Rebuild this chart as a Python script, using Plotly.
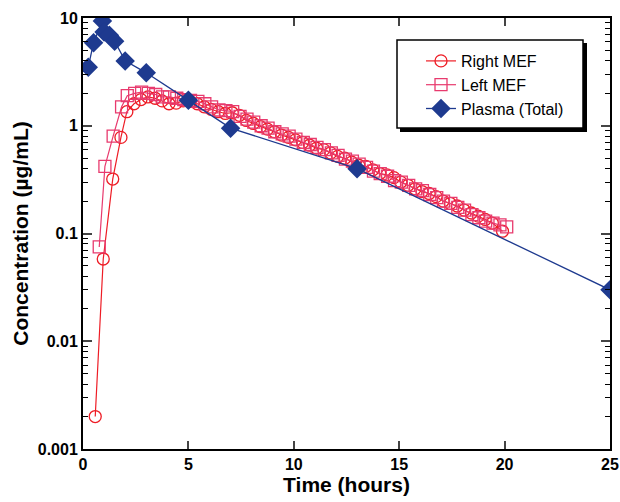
import plotly.graph_objects as go

plasma_t = [0.25, 0.5, 0.92, 1.0, 1.25, 1.5, 2, 3, 5, 7, 13, 25]
plasma_c = [3.5, 5.9, 9.4, 7.4, 6.9, 6.1, 4.0, 3.1, 1.72, 0.95, 0.40, 0.030]

right_t = [0.58, 0.96, 1.41, 1.8, 2.08, 2.42, 2.75, 3.08, 3.42, 3.75, 4.08, 4.42, 4.75,
           5.08, 5.42, 5.75, 6.08, 6.42, 6.75, 7.08, 7.42, 7.75, 8.08, 8.42, 8.75, 9.08,
           9.42, 9.75, 10.08, 10.42, 10.75, 11.08, 11.42, 11.75, 12.08, 12.42, 12.75,
           13.08, 13.42, 13.75, 14.08, 14.42, 14.75, 15.08, 15.42, 15.75, 16.08, 16.42,
           16.75, 17.08, 17.42, 17.75, 18.08, 18.42, 18.75, 19.08, 19.42, 19.9]
right_c = [0.002, 0.058, 0.32, 0.78, 1.35, 1.6, 1.75, 1.85, 1.8, 1.7, 1.6, 1.62, 1.7,
           1.68, 1.6, 1.5, 1.42, 1.35, 1.3, 1.32, 1.25, 1.12, 1.05, 0.98, 0.93, 0.88,
           0.82, 0.78, 0.74, 0.70, 0.66, 0.62, 0.60, 0.56, 0.52, 0.50, 0.46,
           0.43, 0.42, 0.39, 0.36, 0.35, 0.33, 0.30, 0.28, 0.26, 0.245, 0.235,
           0.22, 0.20, 0.19, 0.18, 0.165, 0.155, 0.145, 0.135, 0.125, 0.105]

left_t = [0.77, 1.04, 1.43, 1.83, 2.1, 2.45, 2.78, 3.1, 3.45, 3.78, 4.1, 4.45, 4.78,
          5.1, 5.45, 5.78, 6.1, 6.45, 6.78, 7.1, 7.45, 7.78, 8.1, 8.45, 8.78, 9.1,
          9.45, 9.78, 10.1, 10.45, 10.78, 11.1, 11.45, 11.78, 12.1, 12.45, 12.78,
          13.1, 13.45, 13.78, 14.1, 14.45, 14.78, 15.1, 15.45, 15.78, 16.1, 16.45,
          16.78, 17.1, 17.45, 17.78, 18.1, 18.45, 18.78, 19.1, 19.45, 19.78, 20.1]
left_c = [0.075, 0.42, 0.80, 1.5, 1.9, 2.0, 2.05, 2.0, 1.95, 1.85, 1.85, 1.8, 1.75,
          1.72, 1.68, 1.6, 1.5, 1.4, 1.38, 1.35, 1.22, 1.15, 1.08, 1.0, 0.95, 0.88,
          0.84, 0.80, 0.75, 0.70, 0.67, 0.63, 0.60, 0.56, 0.53, 0.49, 0.47,
          0.44, 0.41, 0.38, 0.36, 0.34, 0.31, 0.30, 0.28, 0.26, 0.25, 0.23,
          0.215, 0.20, 0.19, 0.175, 0.165, 0.15, 0.14, 0.13, 0.125, 0.12, 0.115]

x_ticks = [0, 5, 10, 15, 20, 25]
y_ticks = [0.001, 0.01, 0.1, 1, 10]
y_tick_text = ["0.001", "0.01", "0.1", "1", "10"]

RED = "#ee1c25"
PINK = "#e83a6e"
NAVY = "#1e3a8f"

fig = go.Figure()
fig.add_trace(go.Scatter(x=right_t, y=right_c, mode="lines+markers", name="Right MEF",
                         legendgroup="r",
                         line=dict(color=RED, width=1.2),
                         marker=dict(symbol="circle-open", size=12, color=RED, line=dict(width=1.3))))
fig.add_trace(go.Scatter(x=left_t, y=left_c, mode="lines+markers", name="Left MEF",
                         legendgroup="l",
                         line=dict(color=PINK, width=1.2),
                         marker=dict(symbol="square-open", size=12, color=PINK, line=dict(width=1.3))))
fig.add_trace(go.Scatter(x=plasma_t, y=plasma_c, mode="lines+markers", name="Plasma (Total)",
                         legendgroup="p",
                         line=dict(color=NAVY, width=1.3),
                         marker=dict(symbol="diamond", size=15, color=NAVY)))

font_fam = "Liberation Sans, Arial, sans-serif"

L, R, T, B = 83, 610, 18, 449
def px(x):
    return (x - L) / (R - L)
def py(y):
    return (B - y) / (B - T)

fig.update_layout(
    width=620, height=502,
    margin=dict(l=83, r=10, t=18, b=53, autoexpand=False),
    paper_bgcolor="white", plot_bgcolor="white",
    font=dict(family=font_fam, color="black"),
    showlegend=True,
    legend=dict(x=px(421), y=py(44), xanchor="left", yanchor="top",
                bgcolor="rgba(0,0,0,0)", borderwidth=0,
                font=dict(size=16, family=font_fam, color="black"),
                traceorder="grouped", tracegroupgap=0),
    xaxis=dict(range=[0, 25], tickvals=x_ticks, ticks="inside", ticklen=8, tickwidth=1.5,
               mirror="ticks", showline=True, linecolor="black", linewidth=2,
               showgrid=False, zeroline=False, automargin=False,
               tickfont=dict(size=16, family=font_fam, weight="bold"),
               title=dict(text="<b>Time (hours)</b>", font=dict(size=21), standoff=5)),
    yaxis=dict(type="log", range=[-3, 1], tickvals=y_ticks, ticktext=y_tick_text,
               ticks="inside", ticklen=9, tickwidth=1.5,
               mirror="ticks", showline=True, linecolor="black", linewidth=2,
               showgrid=False, zeroline=False, automargin=False,
               minor=dict(ticks="inside", ticklen=5, tickwidth=1, tickcolor="black", dtick="D1", showgrid=False),
               tickfont=dict(size=16, family=font_fam, weight="bold"),
               title=dict(text="<b>Concentration (µg/mL)</b>", font=dict(size=21), standoff=3)),
)
# legend box with drop shadow
fig.add_shape(type="rect", xref="paper", yref="paper", x0=px(400), x1=px(587), y0=py(132), y1=py(43),
              fillcolor="black", line=dict(width=0), layer="above")
fig.add_shape(type="rect", xref="paper", yref="paper", x0=px(397), x1=px(583), y0=py(128), y1=py(40),
              fillcolor="white", line=dict(color="black", width=1.5), layer="above")

fig.write_html("out.html", config={"displayModeBar": False},
               post_script="document.body.style.margin='0';document.body.style.overflow='hidden';")
